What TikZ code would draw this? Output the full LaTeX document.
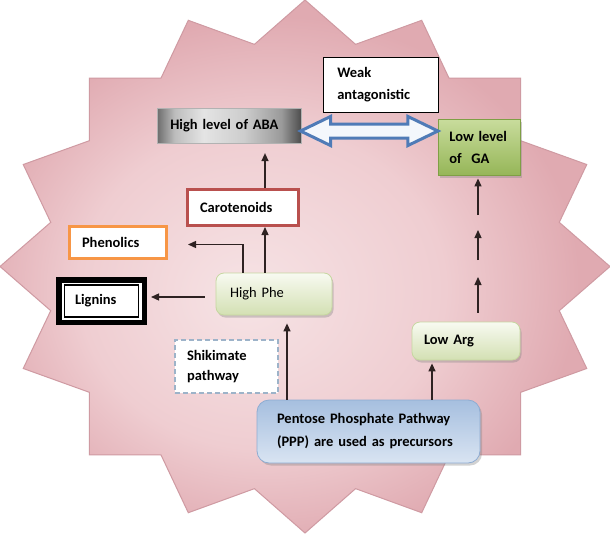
\documentclass[tikz,border=0pt]{standalone}
\usepackage{fontspec}
\setmainfont{Carlito}
\usetikzlibrary{shadows,arrows.meta,calc}
\definecolor{arr}{HTML}{2E2222}
\definecolor{starline}{HTML}{CF9AA2}
\definecolor{sA}{HTML}{F6E3E5}
\definecolor{sB}{HTML}{EFCDD1}
\definecolor{sC}{HTML}{E0AAB1}
\definecolor{dblue}{HTML}{4F7BB7}
\definecolor{dfill}{HTML}{F3F7FC}
\definecolor{gatop}{HTML}{C8DC9C}
\definecolor{gabot}{HTML}{96B658}
\definecolor{gadraw}{HTML}{7F9F45}
\definecolor{cred}{HTML}{B9504E}
\definecolor{corange}{HTML}{F79646}
\definecolor{pgtop}{HTML}{F8FAF1}
\definecolor{pgbot}{HTML}{D3E0B3}
\definecolor{pgdraw}{HTML}{C6D7A0}
\definecolor{shik}{HTML}{9DB3C9}
\definecolor{pbtop}{HTML}{A6BFDF}
\definecolor{pbbot}{HTML}{D9E4F2}
\definecolor{pbdraw}{HTML}{8EACD2}
\definecolor{g1}{HTML}{6E6E6E}
\definecolor{g2}{HTML}{BDBDBD}
\definecolor{g3}{HTML}{E4E4E4}
\definecolor{g4}{HTML}{CDCDCD}
\definecolor{g5}{HTML}{9A9A9A}
\definecolor{g6}{HTML}{4A4A4A}
\pgfdeclareradialshading{starshade}{\pgfpoint{-5bp}{-3bp}}{color(0bp)=(sA); color(15bp)=(sB); color(25bp)=(sC); color(50bp)=(sC)}
\pgfdeclarehorizontalshading{abashade}{100bp}{color(0bp)=(g1); color(25bp)=(g1); color(31bp)=(g2); color(41bp)=(g3); color(55bp)=(g4); color(68bp)=(g5); color(75bp)=(g6); color(100bp)=(g6)}
\begin{document}
\begin{tikzpicture}[x=1pt,y=-1pt,
  every node/.style={font=\fontsize{14.5}{22}\selectfont\bfseries, inner ysep=0pt, align=left, anchor=center},
  sqbox/.style={rectangle, minimum height=#1},
  greenround/.style={rectangle, rounded corners=8pt, top color=pgtop, bottom color=pgbot, draw=pgdraw, line width=0.8,
     drop shadow={shadow xshift=1.5pt, shadow yshift=-2.5pt, opacity=0.35}},
  arrowst/.style={draw=arr, line width=1.3, -{Triangle[length=8pt,width=7pt]}},
  shadowbox/.style={drop shadow={shadow xshift=2pt, shadow yshift=-2.5pt, opacity=0.35}}]
\useasboundingbox[fill=white] (0,0) rectangle (610,533);
% star background
\path[shading=starshade, draw=starline, line width=1]
  (305,0) \foreach \i in {0,...,15} {
    -- ({305+259.25*sin(\i*22.5+11.25)},{266.5-226.5*cos(\i*22.5+11.25)})
    -- ({305+305*sin(\i*22.5+22.5)},{266.5-266.5*cos(\i*22.5+22.5)}) } -- cycle;
% nodes
\node[sqbox=55.4, draw=black, line width=0.8, fill=white, inner xsep=14pt, text width=87pt] (weak) at (380.8,85) {Weak\\antagonistic};
\node[sqbox=35, draw=gray!60, line width=0.6, shading=abashade, inner xsep=13pt, text width=118.4pt] (aba) at (229.5,125.8) {High level of ABA};
\node[sqbox=55.7, top color=gatop, bottom color=gabot, draw=gadraw, line width=0.8, inner xsep=11pt, text width=59.7pt, shadowbox] (ga) at (479.2,147.2) {Low level\\of\ \ GA};
\node[sqbox=36, draw=cred, line width=3, fill=white, inner xsep=12.5pt, text width=86pt] (car) at (243,207.5) {Carotenoids};
\node[sqbox=32, draw=corange, line width=3, fill=white, inner xsep=12.5pt, text width=72pt] (phen) at (118,242.5) {Phenolics};
\node[sqbox=42.5, draw=black, line width=5.5, fill=white, inner xsep=16.25pt, text width=53pt] (lig) at (101.5,301) {Lignins};
\draw[black, line width=1.5] ($(lig.north west)+(8.3,7.8)$) rectangle ($(lig.south east)+(-8.3,-7.8)$);
\node[greenround, minimum height=42, inner xsep=14pt, text width=88pt, font=\fontsize{14.5}{22}\selectfont\mdseries] (phe) at (274,294) {High Phe};
\node[sqbox=53, draw=shik, line width=1.8, dash pattern=on 5pt off 3pt, fill=white, inner xsep=12pt, text width=79pt, font=\fontsize{14.5}{20}\selectfont\bfseries] (shk) at (226.5,366.5) {Shikimate\\pathway};
\node[rectangle, rounded corners=12pt, minimum height=63, top color=pbtop, bottom color=pbbot, draw=pbdraw, line width=0.8, inner xsep=20pt, text width=183pt, font=\fontsize{14.5}{23}\selectfont\bfseries, shadowbox] (ppp) at (368.5,431.5) {Pentose Phosphate Pathway\\(PPP) are used as precursors};
\node[greenround, minimum height=38, inner xsep=12pt, text width=84pt] (arg) at (466,341) {Low Arg};
% double arrow between ABA and GA
\coordinate (dl) at ($(aba.east)+(-1.5,5.2)$);
\coordinate (dr) at (ga.west |- dl);
\draw[line width=3, draw=dblue, fill=dfill, line join=miter]
  (dl) -- ($(dl)+(30,-14.5)$) -- ($(dl)+(30,-7)$) -- ($(dr)+(-30,-7)$) -- ($(dr)+(-30,-14.5)$) -- (dr)
  -- ($(dr)+(-30,14.5)$) -- ($(dr)+(-30,7)$) -- ($(dl)+(30,7)$) -- ($(dl)+(30,14.5)$) -- cycle;
% connectors
\coordinate (xc) at (265,0);
\coordinate (xp) at (243,0);
\coordinate (xq) at (287,0);
\coordinate (xa) at (432,0);
\coordinate (xr) at (478,0);
\coordinate (phentip) at (188,244.5);
\coordinate (ligtip) at (151,297);
\draw[arrowst, shorten >=9.5pt] (car.north -| xc) -- (aba.south -| xc);
\draw[arrowst] (phe.north -| xc) -- (car.south -| xc);
\draw[arrowst] (phe.north -| xp) |- (phentip);
\draw[arrowst, shorten <=11pt] (phe.west |- ligtip) -- (ligtip);
\draw[arrowst, shorten >=8pt] (ppp.north -| xq) -- (phe.south -| xq);
\draw[arrowst, shorten >=3pt] (ppp.north -| xa) -- (arg.south -| xa);
\coordinate (r1e) at (478,277);
\coordinate (r2s) at (478,260);
\coordinate (r2e) at (478,230);
\coordinate (r3s) at (478,215);
\draw[arrowst, shorten <=9pt] (arg.north -| xr) -- (r1e);
\draw[arrowst] (r2s) -- (r2e);
\draw[arrowst, shorten >=3pt] (r3s) -- (ga.south -| xr);
\end{tikzpicture}
\end{document}
